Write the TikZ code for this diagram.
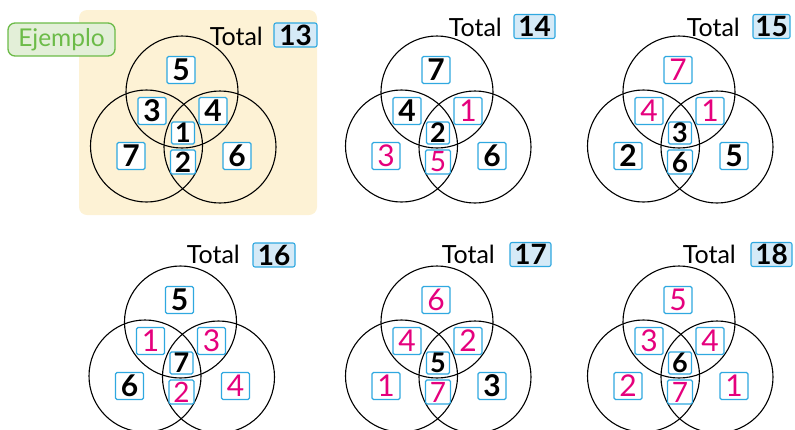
\documentclass[tikz,border=0pt]{standalone}
\usepackage{fontspec}
\setmainfont{Lato}
\definecolor{mag}{HTML}{E5007D}
\definecolor{bord}{HTML}{2FA8E0}
\definecolor{tfill}{HTML}{D5EAF7}
\definecolor{cream}{HTML}{FDF2D5}
\definecolor{egreen}{HTML}{6CBB48}
\definecolor{efill}{HTML}{E3EFD8}
\newcommand\digK[1]{{\bfseries #1}}
\newcommand\digM[1]{\textcolor{mag}{#1}}
\tikzset{
  vcirc/.style={circle,draw=black,line width=1.1pt,minimum size=112pt,inner sep=0pt},
  dbox/.style={draw=bord,fill=white,line width=1.1pt,rounded corners=1.5pt,minimum width=28pt,minimum height=27pt,inner sep=0pt,font=\fontsize{30}{30}\selectfont},
  cbox/.style={dbox,minimum width=23pt,minimum height=22pt,font=\fontsize{27}{27}\selectfont},
  lbox/.style={dbox,minimum width=25pt,minimum height=24pt,font=\fontsize{28}{28}\selectfont},
  tbox/.style={draw=bord,fill=tfill,line width=1.1pt,rounded corners=2pt,minimum height=24pt,inner sep=0pt,font=\fontsize{28}{28}\selectfont\bfseries},
  ttext/.style={anchor=base east,inner sep=0pt,font=\fontsize{25}{25}\selectfont},
}
\newcommand\vennpanel[9]{%
  \begin{scope}[shift={(#2)}]
    \node[vcirc] (#1-ct) at (0,0) {};
    \node[vcirc] (#1-cl) at (-35.5,54) {};
    \node[vcirc] (#1-cr) at (38,55) {};
    \node[dbox] (#1-t) at (-1,-22) {#3};
    \node[dbox] (#1-ul) at (-30,19) {#4};
    \node[dbox] (#1-ur) at (31,19) {#5};
    \node[cbox] (#1-c) at (1,41) {#6};
    \node[lbox] (#1-lc) at (1,70) {#7};
    \node[dbox] (#1-l) at (-51,64) {#8};
    \node[dbox] (#1-r) at (55,64) {#9};
  \end{scope}}
\begin{document}
\begin{tikzpicture}[x=1pt,y=-1pt]
\useasboundingbox (0,0) rectangle (795,429);
% example background
\fill[cream,rounded corners=8pt] (79,10) rectangle (317,215);
\node[draw=egreen,fill=efill,line width=1.3pt,rounded corners=7pt,minimum width=107pt,minimum height=33pt,inner sep=0pt,text=egreen,font=\fontsize{24.5}{24.5}\selectfont] (ej) at (61.5,39.5) {Ejemplo};
% panels
\vennpanel{p1}{182,92}{\digK5}{\digK3}{\digK4}{\digK1}{\digK2}{\digK7}{\digK6}
\vennpanel{p2}{437,92}{\digK7}{\digK4}{\digM1}{\digK2}{\digM5}{\digM3}{\digK6}
\vennpanel{p3}{679,92}{\digM7}{\digM4}{\digM1}{\digK3}{\digK6}{\digK2}{\digK5}
\vennpanel{p4}{180.5,322}{\digK5}{\digM1}{\digM3}{\digK7}{\digM2}{\digK6}{\digM4}
\vennpanel{p5}{437,322}{\digM6}{\digM4}{\digM2}{\digK5}{\digM7}{\digM1}{\digK3}
\vennpanel{p6}{679,322}{\digM5}{\digM3}{\digM4}{\digK6}{\digM7}{\digM2}{\digM1}
% totals
\node[tbox,minimum width=43pt] (t1) at (295.5,35) {13};
\node[ttext] (l1) at (263,45) {Total};
\node[tbox,minimum width=41pt] (t2) at (534.5,26.5) {14};
\node[ttext] (l2) at (502,36.5) {Total};
\node[tbox,minimum width=37pt] (t3) at (771.5,26.5) {15};
\node[ttext] (l3) at (740,36.5) {Total};
\node[tbox,minimum width=42pt] (t4) at (274,255) {16};
\node[ttext] (l4) at (240,263) {Total};
\node[tbox,minimum width=41pt] (t5) at (530.5,254.5) {17};
\node[ttext] (l5) at (495,263) {Total};
\node[tbox,minimum width=41pt] (t6) at (771.5,254.5) {18};
\node[ttext] (l6) at (736,263) {Total};
\end{tikzpicture}
\end{document}
